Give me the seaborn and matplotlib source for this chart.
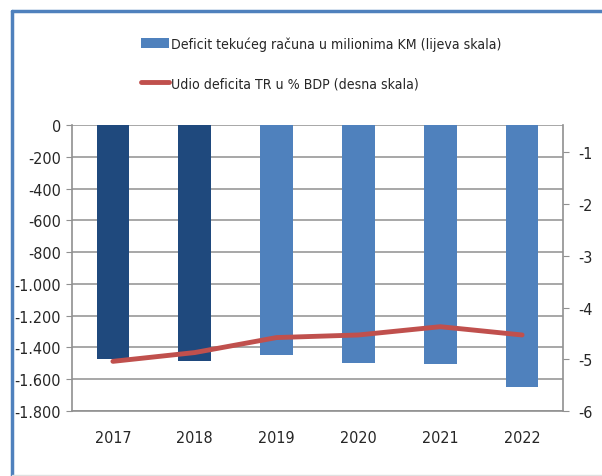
import numpy as np
import matplotlib
matplotlib.use("Agg")
import matplotlib.pyplot as plt
import seaborn as sns
from matplotlib.lines import Line2D
from matplotlib.patches import Patch
from matplotlib.ticker import FuncFormatter, MultipleLocator

# --- data ---
years = ["2017", "2018", "2019", "2020", "2021", "2022"]
deficit_km = [-1470, -1483, -1450, -1497, -1507, -1652]
deficit_pct_gdp = [-5.04, -4.87, -4.58, -4.53, -4.37, -4.53]
bar_colors = ["#1F497D", "#1F497D", "#4F81BD", "#4F81BD", "#4F81BD", "#4F81BD"]
line_color = "#C0504D"
label_bars = "Deficit tekućeg računa u milionima KM (lijeva skala)"
label_line = "Udio deficita TR u % BDP (desna skala)"

sns.set_style("white")
plt.rcParams["font.family"] = ["DejaVu Sans"]
plt.rcParams["font.stretch"] = "condensed"

fig = plt.figure(figsize=(6.02, 4.77), dpi=100)
ax = fig.add_axes([72 / 602, 1 - 412 / 477, (563 - 72) / 602, (412 - 126) / 477])

sns.barplot(x=years, y=deficit_km, hue=years, palette=bar_colors, legend=False,
            width=0.4, saturation=1, ax=ax, zorder=3, edgecolor="none", linewidth=0)
ax.set_ylim(-1800, 0)
ax.yaxis.set_major_locator(MultipleLocator(200))
ax.yaxis.set_major_formatter(FuncFormatter(lambda v, p: f"{int(v):,}".replace(",", ".")))
ax.set_xlim(-0.5, 5.5)
ax.grid(axis="y", color="#909090", linewidth=1.1, zorder=0)
ax.set_axisbelow(True)
for s in ["top", "right"]:
    ax.spines[s].set_visible(False)
ax.spines["left"].set_color("#909090")
ax.spines["bottom"].set_color("#909090")
ax.spines["left"].set_linewidth(1.2)
ax.spines["bottom"].set_linewidth(1.2)
ax.tick_params(axis="y", left=True, length=4, color="#909090", labelsize=11.5, pad=4)
ax.tick_params(axis="x", bottom=False, labelsize=11.5, pad=10)
ax.set_xlabel("")
ax.set_ylabel("")

ax2 = ax.twinx()
sns.lineplot(x=np.arange(len(years)), y=deficit_pct_gdp, color=line_color,
             linewidth=3.5, ax=ax2, zorder=4)
ax2.set_ylim(-6, -0.47)
ax2.set_yticks([-1, -2, -3, -4, -5, -6])
ax2.set_yticklabels(["-1", "-2", "-3", "-4", "-5", "-6"])
ax2.tick_params(axis="y", right=True, length=4, color="#909090", labelsize=11.5, pad=7)
for s in ["top", "left", "bottom"]:
    ax2.spines[s].set_visible(False)
ax2.spines["right"].set_color("#909090")
ax2.spines["right"].set_linewidth(1.2)
ax2.set_xlim(-0.5, 5.5)

handles = [Patch(facecolor="#4F81BD", edgecolor="none"),
           Line2D([0], [0], color=line_color, linewidth=3.5)]
fig.legend(handles, [label_bars, label_line], loc="upper left",
           bbox_to_anchor=(128 / 602, 1 - 25 / 477), frameon=False,
           fontsize=10.1, handlelength=2.0, handletextpad=0.2, labelspacing=1.8)

# chart frame
fig.add_artist(Line2D([12 / 602, 1], [1 - 12 / 477, 1 - 12 / 477], color="#4F81BD", linewidth=2.5))
fig.add_artist(Line2D([12 / 602, 12 / 602], [1 - 12 / 477, 0], color="#4F81BD", linewidth=2.5))
fig.add_artist(Line2D([12 / 602, 1], [1 / 477, 1 / 477], color="#E0E0E0", linewidth=1))

fig.savefig("out.png", dpi=100)
